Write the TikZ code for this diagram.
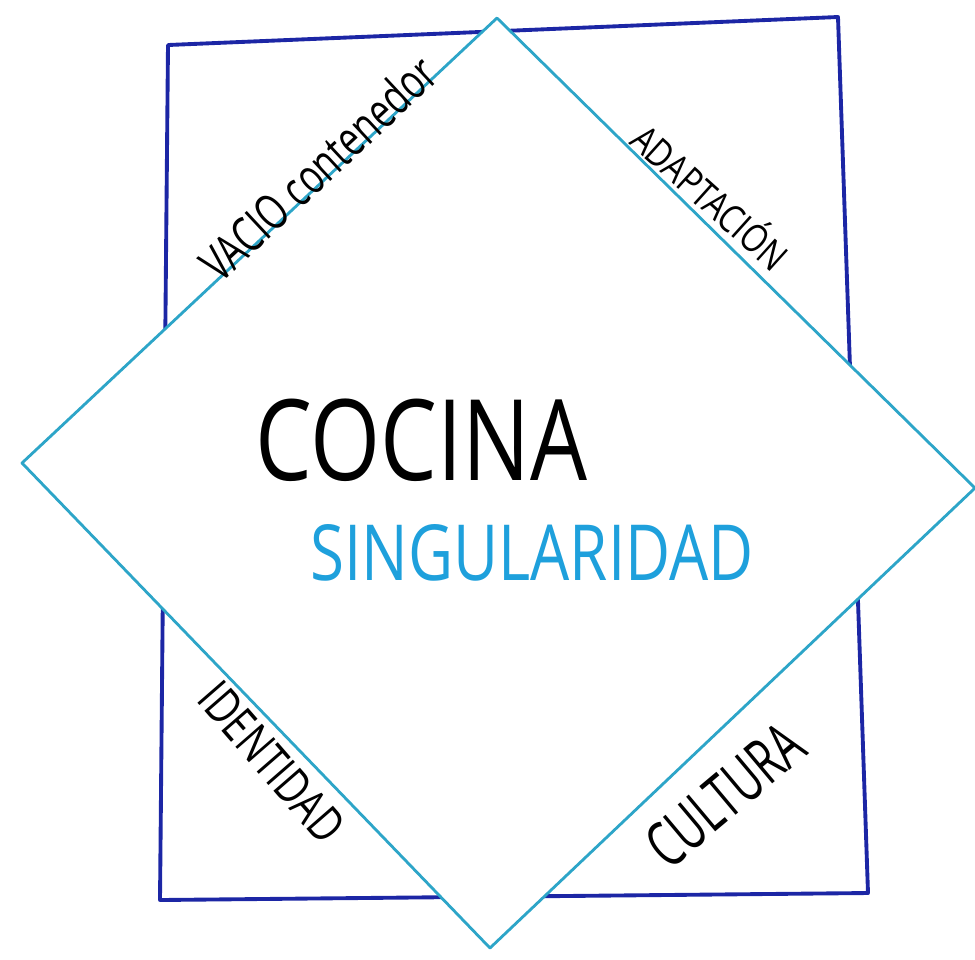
\documentclass[tikz,border=0pt]{standalone}
\usepackage{fontspec}
\setmainfont{Open Sans}
\usetikzlibrary{calc}
\definecolor{marco}{RGB}{28,38,165}
\definecolor{rombo}{RGB}{45,165,200}
\definecolor{singu}{RGB}{30,160,220}

\begin{document}
\begin{tikzpicture}[x=0.01cm,y=-0.01cm]
\tikzstyle{marco}=[draw=marco,line width=1.1pt,line join=round]
\tikzstyle{rombo}=[draw=rombo,fill=white,line width=0.8pt,line join=round]
\tikzstyle{lado}=[inner sep=0pt,transform shape]
\useasboundingbox (0,0) rectangle (975,959);

% el cuadro de fondo
\coordinate (m1) at (168,45);
\coordinate (m2) at (838,17);
\coordinate (m3) at (868,893);
\coordinate (m4) at (160,900);
\draw[marco] (m1) -- (m2) -- (m3) -- (m4) -- cycle;

% el rombo encima
\coordinate (top) at (497,18);
\coordinate (left) at (22,463);
\coordinate (bottom) at (490,948);
\coordinate (right) at (975,488);
\draw[rombo] (top) -- (right) -- (bottom) -- (left) -- cycle;

\node (cocina) at (421,440) [font=\fontsize{32}{32}\selectfont,xscale=0.8,transform shape] {COCINA};
\node (singu) at (532,553) [text=singu,font=\fontsize{22}{22}\selectfont,xscale=0.8,transform shape] {SINGULARIDAD};

\node (vacio) at (318,168) [lado,rotate=43,font=\fontsize{14}{14}\selectfont,xscale=0.72] {VACIO contenedor};
\node (adapt) at (712,195) [lado,rotate=-42,font=\fontsize{11}{11}\selectfont,xscale=0.82] {ADAPTACIÓN};
\node (ident) at (272,762) [lado,rotate=-49,font=\fontsize{14}{14}\selectfont,xscale=0.75] {IDENTIDAD};
\node (cultura) at (725,795) [lado,rotate=40,font=\fontsize{18}{18}\selectfont,xscale=0.66] {CULTURA};
\end{tikzpicture}
\end{document}
